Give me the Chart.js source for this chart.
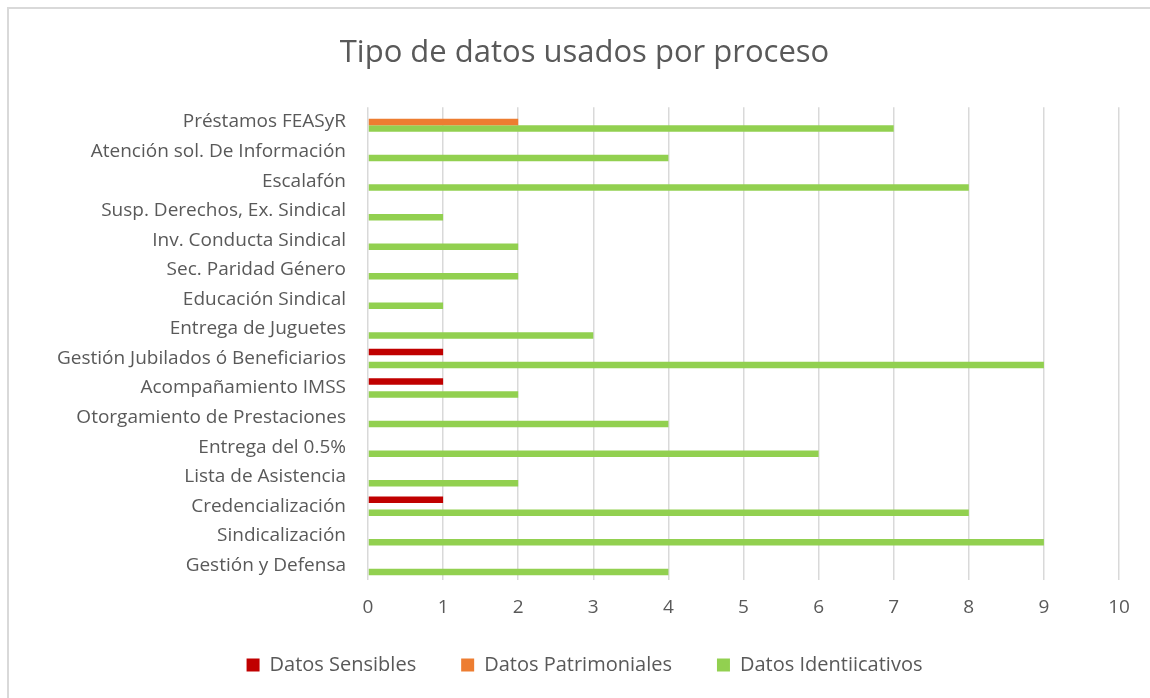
<!DOCTYPE html>
<html>
<head>
<meta charset="utf-8">
<script src="https://cdn.jsdelivr.net/npm/chart.js@4.4.0/dist/chart.umd.min.js"></script>
<style>
  html, body { margin: 0; padding: 0; background: #fff; overflow: hidden; }
  #frame { position: absolute; left: 7px; top: 7px; width: 1200px; height: 750px; border: 2px solid #d9d9d9; }
  #chart { position: absolute; left: 0; top: 0; }
</style>
</head>
<body>
<div id="frame"></div>
<canvas id="chart" width="1150" height="698"></canvas>
<script>
// procesos (de arriba hacia abajo)
var procesos = [
  "Préstamos FEASyR",
  "Atención sol. De Información",
  "Escalafón",
  "Susp. Derechos, Ex. Sindical",
  "Inv. Conducta Sindical",
  "Sec. Paridad Género",
  "Educación Sindical",
  "Entrega de Juguetes",
  "Gestión Jubilados ó Beneficiarios",
  "Acompañamiento IMSS",
  "Otorgamiento de Prestaciones",
  "Entrega del 0.5%",
  "Lista de Asistencia",
  "Credencialización",
  "Sindicalización",
  "Gestión y Defensa"
];
var sensibles      = [null, null, null, null, null, null, null, null, 1, 1, null, null, null, 1, null, null];
var patrimoniales  = [2, null, null, null, null, null, null, null, null, null, null, null, null, null, null, null];
var identificativos = [7, 4, 8, 1, 2, 2, 1, 3, 9, 2, 4, 6, 2, 8, 9, 4];
var ticksX = [0, 1, 2, 3, 4, 5, 6, 7, 8, 9, 10];

var gris = '#595959';
var fuente = "'Open Sans', 'Noto Sans', sans-serif";

// sube la leyenda sin cambiar el espacio horizontal entre elementos
var subirLeyenda = {
  id: 'subirLeyenda',
  afterLayout: function (chart) {
    var dy = 10;
    chart.legend.top -= dy;
    chart.legend.bottom -= dy;
  }
};

var ctx = document.getElementById('chart').getContext('2d');
new Chart(ctx, {
  type: 'bar',
  data: {
    labels: procesos,
    datasets: [
      { label: 'Datos Sensibles', data: sensibles, backgroundColor: '#C00000' },
      { label: 'Datos Patrimoniales', data: patrimoniales, backgroundColor: '#ED7D31' },
      { label: 'Datos Identiicativos', data: identificativos, backgroundColor: '#92D050' }
    ]
  },
  options: {
    indexAxis: 'y',
    responsive: false,
    animation: false,
    layout: { padding: { left: 20, right: 1, top: 0, bottom: 3 } },
    datasets: { bar: { categoryPercentage: 0.66, barPercentage: 1.0 } },
    plugins: {
      title: {
        display: true,
        text: 'Tipo de datos usados por proceso',
        color: gris,
        font: { family: fuente, size: 31, weight: 'normal' },
        padding: { top: 35, bottom: 35 }
      },
      legend: {
        position: 'bottom',
        labels: {
          color: gris,
          boxWidth: 13,
          boxHeight: 13,
          padding: 45,
          font: { family: fuente, size: 20 }
        }
      },
      tooltip: { enabled: false }
    },
    scales: {
      x: {
        min: 0,
        max: 10,
        afterBuildTicks: function (axis) {
          axis.ticks = ticksX.map(function (v) { return { value: v }; });
        },
        afterFit: function (axis) {
          axis.height = axis.height - 15;
          axis.paddingRight = 31;
        },
        grid: { color: '#d9d9d9', lineWidth: 1.5, drawTicks: false },
        border: { display: false },
        ticks: { color: gris, padding: 16, font: { family: fuente, size: 19 } }
      },
      y: {
        grid: { display: false, drawTicks: false },
        border: { display: false },
        afterFit: function (axis) { axis.width = 348; },
        ticks: { color: gris, padding: 22, autoSkip: false, font: { family: fuente, size: 19 } }
      }
    }
  },
  plugins: [subirLeyenda]
});
</script>
</body>
</html>
